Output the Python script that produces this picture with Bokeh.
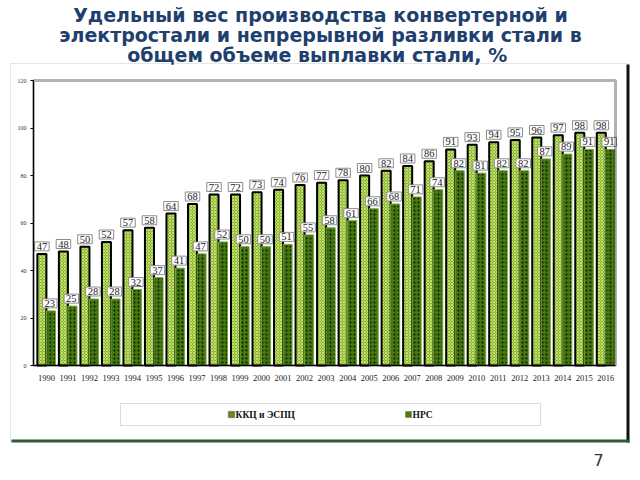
import numpy as np
from bokeh.plotting import figure
from bokeh.models import BoxAnnotation, Label, FixedTicker, Range1d, ColumnDataSource
from bokeh.core.properties import value
from bokeh.embed import file_html
from bokeh.resources import INLINE

# ---- data ----
years = [str(y) for y in range(1990, 2017)]
kkc_espc = [47, 48, 50, 52, 57, 58, 64, 68, 72, 72, 73, 74, 76, 77, 78, 80, 82, 84, 86,
            91, 93, 94, 95, 96, 97, 98, 98]
nrs = [23, 25, 28, 28, 32, 37, 41, 47, 52, 50, 50, 51, 55, 58, 61, 66, 68, 71, 74,
       82, 81, 82, 82, 87, 89, 91, 91]
y_ticks = [0, 20, 40, 60, 80, 100, 120]
title_lines = ["Удельный вес производства конвертерной и",
               "электростали и непрерывной разливки стали в",
               "общем объеме выплавки  стали, %"]
legend_labels = ["ККЦ и ЭСПЦ", "НРС"]
page_number = "7"

# ---- layout: page pixels -> data coordinates ----
W, H = 632, 472
X0, X1 = -0.6, 26.45          # plot-area x range
Y0, Y1 = 0, 120               # plot-area y range
FL, FR, FT, FB = 33, 615, 80, 365   # plot area in page pixels


def ix(X):
    return X0 + (X - FL) * (X1 - X0) / (FR - FL)


def iy(Y):
    return Y1 - (Y - FT) * (Y1 - Y0) / (FB - FT)


p = figure(width=W, height=H, output_backend="svg", toolbar_location=None, title=None,
           x_range=Range1d(ix(0), ix(W)), y_range=Range1d(iy(H), iy(0)),
           min_border=0)
p.background_fill_color = "white"
p.border_fill_color = "white"
p.outline_line_color = None
p.xgrid.visible = False
p.ygrid.visible = False

# outer frame
p.add_layout(BoxAnnotation(left=ix(10), right=ix(628), top=iy(63), bottom=iy(441),
                           fill_color=None, line_color="#9DB59D", line_width=1))
p.add_layout(BoxAnnotation(left=ix(626), right=ix(629), top=iy(64), bottom=iy(442),
                           fill_color="#111111", fill_alpha=1, line_color=None))
p.add_layout(BoxAnnotation(left=ix(11), right=ix(629), top=iy(439), bottom=iy(442),
                           fill_color="#2E5E2E", fill_alpha=1, line_color=None))

idx = np.arange(len(years))
src = ColumnDataSource(dict(
    xk=idx - 0.21, xn=idx + 0.21, kkc=kkc_espc, nrs=nrs,
    tk=[str(v) for v in kkc_espc], tn=[str(v) for v in nrs],
    lk=idx - 0.21, ln=idx + 0.16))

p.vbar(x="xk", top="kkc", width=0.42, source=src, fill_color="#84B636",
       hatch_pattern="diagonal_cross", hatch_color="#C6DE6A", hatch_scale=3, hatch_weight=1,
       line_color="black", line_width=2)
p.vbar(x="xn", top="nrs", width=0.42, source=src, fill_color="#437512",
       hatch_pattern="dot", hatch_color="#0E1C05", hatch_scale=4,
       line_color="#7AA83A", line_width=1)

common = dict(text_font=value("Liberation Serif"), text_font_size="10.5px", text_color="#222222",
              text_align="center", text_baseline="bottom", y_offset=-3,
              background_fill_color="white", border_line_color="#8C8C8C", border_line_width=1,
              padding=(2, 1))
p.text(x="lk", y="kkc", text="tk", source=src, **common)
p.text(x="ln", y="nrs", text="tn", source=src, **common)

# plot-area border
p.add_layout(BoxAnnotation(left=X0, right=X1, top=Y1, bottom=Y0, fill_color=None,
                           line_color="black", line_width=3))

# axes placed at the plot-area edges
p.xaxis.fixed_location = Y0
p.xaxis.bounds = (X0, X1)
p.xaxis.ticker = FixedTicker(ticks=list(idx))
p.xaxis.major_label_overrides = {int(i): y for i, y in zip(idx, years)}
p.xaxis.major_label_text_font = "Liberation Serif"
p.xaxis.major_label_text_font_size = "8.5px"
p.xaxis.major_label_text_color = "#222222"
p.xaxis.major_tick_line_color = None
p.xaxis.minor_tick_line_color = None
p.xaxis.axis_line_color = "black"
p.xaxis.major_label_standoff = 3

p.yaxis.fixed_location = X0
p.yaxis.bounds = (Y0, Y1)
p.yaxis.ticker = FixedTicker(ticks=y_ticks)
p.yaxis.major_label_text_font = "Liberation Serif"
p.yaxis.major_label_text_font_size = "6px"
p.yaxis.major_label_text_color = "#333333"
p.yaxis.major_tick_out = 3
p.yaxis.major_tick_in = 0
p.yaxis.minor_tick_line_color = None
p.yaxis.axis_line_color = "black"
p.yaxis.major_label_standoff = 4

# title
for k, line in enumerate(title_lines):
    p.add_layout(Label(x=ix(320), y=iy(14 + 20 * k), text=line, text_align="center",
                       text_baseline="middle", text_font="DejaVu Sans", text_font_style="bold",
                       text_font_size="19px", text_color="#1F3F6E"))

# legend
p.add_layout(BoxAnnotation(left=ix(120), right=ix(540), top=iy(403), bottom=iy(425),
                           fill_color="white", fill_alpha=1, line_color="#8A8A8A", line_width=1))
p.add_layout(BoxAnnotation(left=ix(228), right=ix(234), top=iy(411), bottom=iy(417),
                           fill_color="#6B8E23", fill_alpha=1, line_color="black", line_width=1.5))
p.add_layout(BoxAnnotation(left=ix(405), right=ix(411), top=iy(411), bottom=iy(417),
                           fill_color="#4C7C13", fill_alpha=1, line_color="#2F4F0F", line_width=1))
p.add_layout(Label(x=ix(235), y=iy(414), text=legend_labels[0], text_align="left",
                   text_baseline="middle", text_font="Liberation Serif", text_font_style="bold",
                   text_font_size="9.5px", text_color="#111111"))
p.add_layout(Label(x=ix(412), y=iy(414), text=legend_labels[1], text_align="left",
                   text_baseline="middle", text_font="Liberation Serif", text_font_style="bold",
                   text_font_size="9.5px", text_color="#111111"))

# page number
p.add_layout(Label(x=ix(598), y=iy(459), text=page_number, text_align="center",
                   text_baseline="middle", text_font="DejaVu Sans", text_font_size="16px",
                   text_color="#333333"))

open("out.html", "w").write(file_html(p, INLINE))
